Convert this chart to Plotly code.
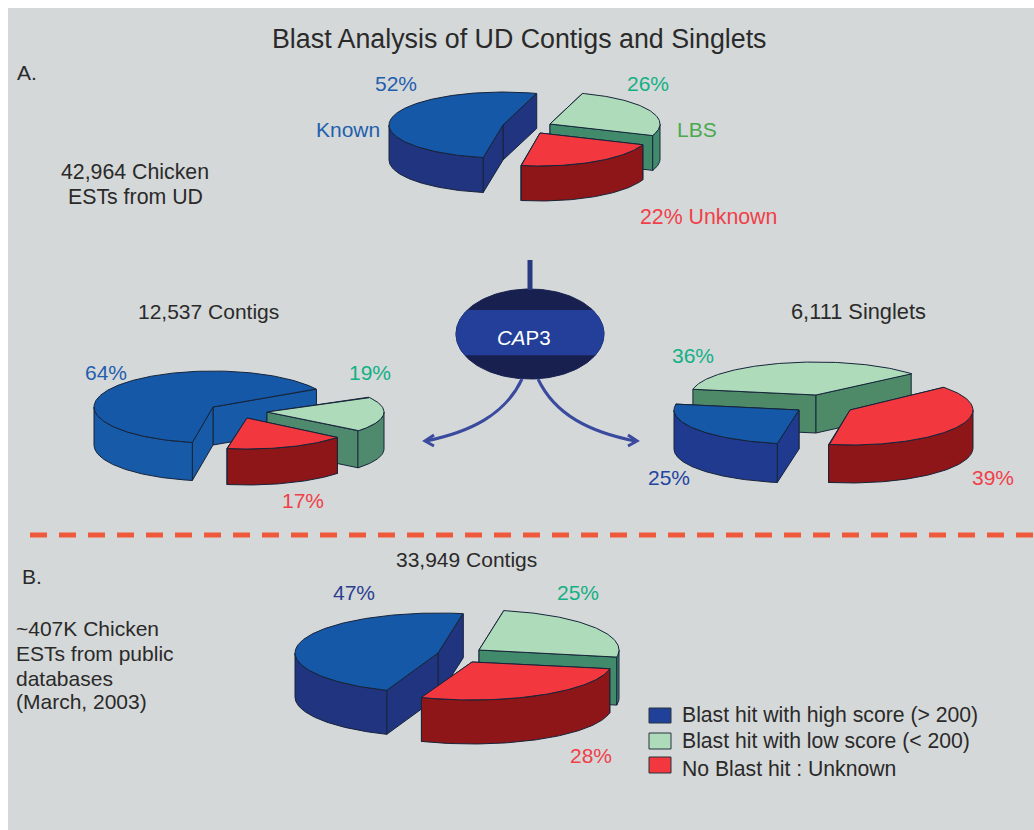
import numpy as np
import plotly.graph_objects as go

# ---- data: shares (percent) of each pie, in order high / low / none
categories = ["Blast hit with high score (> 200)", "Blast hit with low score (< 200)", "No Blast hit : Unknown"]
ud_ests = [52, 26, 22]
ud_contigs = [64, 19, 17]
ud_singlets = [25, 36, 39]
public_contigs = [47, 25, 28]

# ---- layout constants (pixel space of the page)
W, H = 1034, 830
PANEL = "#d5d8d8"
EDGE = "#16243a"
TOP = ["#1558a8", "#aedcbb", "#f2373f"]
SIDE = ["#20347f", "#418a6c", "#8e1518"]

# per pie: start angle, slice geometry (cx, cy, rx, ry, depth), draw order, side colours
PIES = [
    dict(values=ud_ests, start=100, order=[0, 1, 2], side=SIDE,
         geom=[(503, 125, 114, 33, 35), (550, 124, 110, 32, 35), (540, 133, 110, 33, 35)]),
    dict(values=ud_contigs, start=100, order=[0, 1, 2], side=["#175aa8", "#4f8a6e", "#8e1518"],
         geom=[(213, 407, 119, 36, 38), (267, 412, 117, 30, 37), (247, 418, 116, 31, 36)]),
    dict(values=ud_singlets, start=100, order=[1, 2, 0], side=["#203a90", "#4e8a68", "#8e1518"],
         geom=[(799, 410, 125, 34, 39), (816, 395, 125, 33, 38), (850, 410, 123, 35, 38)]),
    dict(values=public_contigs, start=111, order=[1, 0, 2], side=SIDE,
         geom=[(438, 653, 143, 40, 44), (479, 650, 140, 40, 48), (472, 662, 140, 38, 44)]),
]

fig = go.Figure()


def poly(xs, ys, fill, line=EDGE, width=1.0):
    fig.add_trace(go.Scatter(x=xs, y=ys, mode="lines", fill="toself", fillcolor=fill,
                             line=dict(color=line, width=width), hoverinfo="skip", showlegend=False))


def draw_slice(geom, t0, t1, top, side):
    cx, cy, rx, ry, d = geom
    ts = np.radians(np.arange(t0, t1 + 0.5, 1.0))
    ax = cx + rx * np.cos(ts)
    ay = cy + ry * np.sin(ts)
    # flat walls along the two cuts
    walls = []
    for t in (t0, t1):
        px = cx + rx * np.cos(np.radians(t))
        py = cy + ry * np.sin(np.radians(t))
        walls.append((max(py, cy), [cx, px, px, cx, cx], [cy, py, py + d, cy + d, cy]))
    for _, xs, ys in sorted(walls, key=lambda w: w[0]):
        poly(xs, ys, side)
    # curved wall, the part turned to the viewer
    for k in (0, 360):
        lo, hi = max(t0, k), min(t1, k + 180)
        if hi > lo:
            tt = np.radians(np.arange(lo, hi + 0.5, 1.0))
            ox = cx + rx * np.cos(tt)
            oy = cy + ry * np.sin(tt)
            poly(np.r_[ox, ox[::-1], ox[0]], np.r_[oy, oy[::-1] + d, oy[0]], side)
    # top face
    poly(np.r_[cx, ax, cx], np.r_[cy, ay, cy], top)


for pie in PIES:
    edges = pie["start"] + np.r_[0, np.cumsum(pie["values"])] * 3.6
    for i in pie["order"]:
        draw_slice(pie["geom"][i], edges[i], edges[i + 1], TOP[i], pie["side"][i])

# CAP3 capsule
ecx, ecy, erx, ery = 530, 334, 74, 45
tt = np.radians(np.arange(0, 361, 2))
poly(ecx + erx * np.cos(tt), ecy + ery * np.sin(tt), "#17204f", line="#17204f")
yy = np.linspace(310, 355, 40)
half = erx * np.sqrt(1 - ((yy - ecy) / ery) ** 2)
poly(np.r_[ecx - half, (ecx + half)[::-1]], np.r_[yy, yy[::-1]], "#243f9a", line="#243f9a", width=0.5)

shapes = [
    dict(type="rect", x0=8, y0=8, x1=W, y1=H, fillcolor=PANEL, line=dict(width=0), layer="below"),
    dict(type="line", x0=530, x1=530, y0=260, y1=290, line=dict(color="#27397f", width=5)),
    dict(type="path", path="M 522 379 C 505 415, 470 432, 426 441", line=dict(color="#3a4a9e", width=3)),
    dict(type="path", path="M 538 379 C 555 415, 590 432, 635 441", line=dict(color="#3a4a9e", width=3)),
    dict(type="path", path="M 434 435 L 425 441 L 434 446", line=dict(color="#3a4a9e", width=3)),
    dict(type="path", path="M 628 435 L 637 441 L 628 446", line=dict(color="#3a4a9e", width=3)),
    dict(type="line", x0=30, x1=W, y0=535, y1=535, line=dict(color="#ef5a3c", width=5, dash="17px,12px")),
]
swatch_y = [(708, 723), (733, 749), (757, 773)]
for (a, b), col in zip(swatch_y, ["#20409a", TOP[1], TOP[2]]):
    shapes.append(dict(type="rect", x0=649, x1=671, y0=a, y1=b, fillcolor=col, line=dict(color="#26343c", width=1)))

INK = "#2a2a2a"
BLUE = "#1f5fae"
TEAL = "#12b085"
RED = "#f0404a"
# text, x, y, anchor, colour, size
LABELS = [
    ("Blast Analysis of UD Contigs and Singlets", 519, 39, "center", INK, 26.8),
    ("A.", 15, 72, "left", INK, 21),
    ("52%", 396, 83, "center", BLUE, 21),
    ("26%", 648, 83, "center", TEAL, 21),
    ("Known", 348, 129, "center", BLUE, 21),
    ("LBS", 697, 129, "center", "#4aa84f", 21),
    ("22% Unknown", 708, 217, "center", RED, 21.3),
    ("42,964 Chicken", 134.5, 172, "center", INK, 21.3),
    ("ESTs from UD", 135, 197, "center", INK, 21.3),
    ("12,537 Contigs", 208, 311, "center", INK, 21),
    ("6,111 Singlets", 858, 311, "center", INK, 21.8),
    ("<i>CA</i>P3", 524, 337, "center", "white", 20.5),
    ("64%", 106, 372, "center", BLUE, 21),
    ("19%", 370, 372, "center", TEAL, 21),
    ("17%", 303, 500, "center", RED, 21),
    ("36%", 693, 355, "center", TEAL, 21),
    ("25%", 669, 477, "center", "#2444a0", 21),
    ("39%", 993, 477, "center", RED, 21),
    ("33,949 Contigs", 466, 559, "center", INK, 21),
    ("B.", 20, 576, "left", INK, 21),
    ("47%", 354, 592, "center", "#2b3f90", 21),
    ("25%", 578, 592, "center", TEAL, 21),
    ("28%", 591, 755, "center", RED, 21),
    ("~407K Chicken", 14, 628, "left", INK, 21),
    ("ESTs from public", 14, 653, "left", INK, 21),
    ("databases", 14, 678, "left", INK, 21),
    ("(March, 2003)", 14, 701, "left", INK, 21),
]
for name, y in zip(categories, [715, 741, 768]):
    LABELS.append((name, 680, y, "left", INK, 21.2))

annotations = [
    dict(text=t, x=x, y=y, xref="x", yref="y", xanchor=a, yanchor="middle", showarrow=False,
         font=dict(family="Liberation Sans", size=s, color=c))
    for t, x, y, a, c, s in LABELS
]

fig.update_layout(
    width=W, height=H, margin=dict(l=0, r=0, t=0, b=0),
    paper_bgcolor="white", plot_bgcolor="white", showlegend=False,
    xaxis=dict(range=[0, W], visible=False, fixedrange=True),
    yaxis=dict(range=[H, 0], visible=False, fixedrange=True),
    shapes=shapes, annotations=annotations,
)
fig.write_html("out.html", config=dict(displayModeBar=False),
               post_script="document.body.style.margin='0';document.body.style.overflow='hidden';")
